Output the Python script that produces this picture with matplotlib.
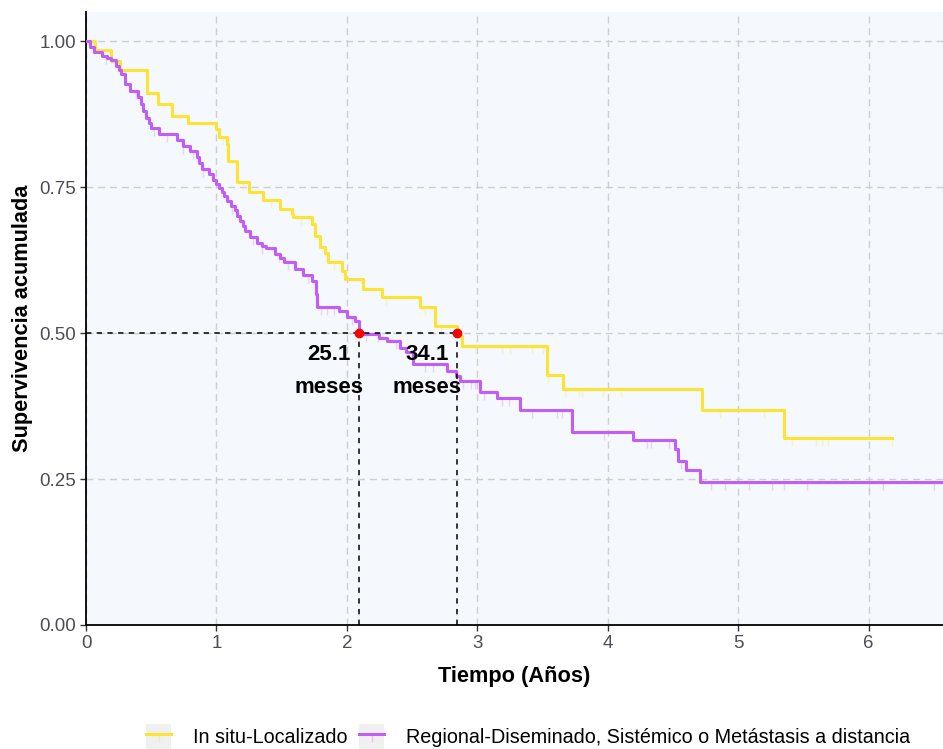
import numpy as np
import matplotlib
matplotlib.use("Agg")
import matplotlib.pyplot as plt
from matplotlib.lines import Line2D
from matplotlib.patches import Patch
from matplotlib.legend_handler import HandlerTuple

plt.rcParams['font.family'] = ['Liberation Sans', 'DejaVu Sans']

# Kaplan-Meier curves (time in years, survival after each drop)
loc_time = [0, 0.07, 0.19, 0.26, 0.47, 0.55, 0.66, 0.78, 1.00, 1.02, 1.08, 1.09, 1.155,
            1.25, 1.36, 1.49, 1.58, 1.59, 1.73, 1.756, 1.794, 1.833, 1.858, 1.961, 1.986,
            2.127, 2.268, 2.561, 2.676, 34.1 / 12, 2.88, 3.533, 3.66, 4.72, 5.35, 6.18]
loc_surv = [1.0, 0.985, 0.966, 0.951, 0.912, 0.893, 0.872, 0.86, 0.849, 0.836, 0.824, 0.795, 0.758,
            0.741, 0.728, 0.712, 0.704, 0.699, 0.687, 0.667, 0.647, 0.638, 0.621, 0.607, 0.592,
            0.576, 0.561, 0.544, 0.512, 0.495, 0.477, 0.428, 0.404, 0.368, 0.321, 0.321]

reg_time = [0, 0.03, 0.06, 0.12, 0.16, 0.19, 0.23, 0.25, 0.27, 0.30, 0.34, 0.40, 0.42, 0.44,
            0.46, 0.48, 0.50, 0.56, 0.70, 0.74, 0.80, 0.85, 0.87, 0.89, 0.94, 0.97, 1.00, 1.02,
            1.04, 1.06, 1.08, 1.11, 1.14, 1.16, 1.18, 1.20, 1.22, 1.26, 1.31, 1.35, 1.38, 1.45,
            1.49, 1.52, 1.60, 1.66, 1.73, 1.76, 1.77, 1.94, 2.00, 2.06, 25.1 / 12, 2.25, 2.31,
            2.41, 2.45, 2.51, 2.77, 2.84, 2.87, 3.02, 3.15, 3.33, 3.725, 4.19, 4.517, 4.54, 4.60,
            4.708, 6.6]
reg_surv = [1.0, 0.99, 0.981, 0.975, 0.971, 0.967, 0.958, 0.951, 0.944, 0.927, 0.915, 0.904, 0.892,
            0.880, 0.869, 0.860, 0.852, 0.841, 0.830, 0.821, 0.812, 0.801, 0.791, 0.781, 0.772,
            0.763, 0.755, 0.748, 0.742, 0.735, 0.727, 0.718, 0.710, 0.701, 0.692, 0.684, 0.675,
            0.664, 0.655, 0.650, 0.645, 0.635, 0.628, 0.621, 0.610, 0.600, 0.589, 0.567, 0.544,
            0.538, 0.527, 0.521, 0.499, 0.492, 0.487, 0.475, 0.467, 0.447, 0.435, 0.427, 0.418,
            0.399, 0.388, 0.368, 0.33, 0.3165, 0.301, 0.281, 0.266, 0.245, 0.245]

# censored observations
loc_cens = [0.3, 1.05, 1.2, 1.42, 1.65, 1.9, 2.3, 2.6, 2.72, 2.98, 3.19, 3.25, 3.42, 3.5,
            3.54, 3.67, 3.78, 3.8, 3.96, 4.1, 4.86, 5.2, 5.41, 5.6, 5.64, 5.69, 6.18]
reg_cens = [0.15, 0.38, 0.52, 0.62, 0.74, 0.82, 0.9, 1.12, 1.28, 1.35, 1.48, 1.55, 1.7, 1.8,
            1.85, 1.9, 2.04, 2.15, 2.24, 2.38, 2.6, 2.66, 2.89, 2.95, 2.98, 3.05, 3.19, 3.24,
            3.42, 3.61, 3.65, 3.97, 4.3, 4.33, 4.47, 4.56, 4.79, 4.9, 5.08, 5.26, 5.35, 5.53,
            6.0, 6.11, 6.5]

medians_months = [25.1, 34.1]

labels = ["In situ-Localizado", "Regional-Diseminado, Sistémico o Metástasis a distancia"]
colors = ["#FDE333", "#C25DF5"]

fig = plt.figure(figsize=(9.43, 7.49), dpi=100)
ax = fig.add_axes([0.0912, 0.1656, 0.9088, 0.8184])
ax.set_facecolor("#F5F8FC")

for tt, ss, cens, col in [(loc_time, loc_surv, loc_cens, colors[0]),
                          (reg_time, reg_surv, reg_cens, colors[1])]:
    tt = np.array(tt)
    ss = np.array(ss)
    ax.step(tt, ss, where='post', color=col, lw=2.2, zorder=3)
    idx = np.searchsorted(tt, cens, side='right') - 1
    ax.plot(cens, ss[idx], ls='none', marker=3, ms=6, mew=1.0,
            color=col, alpha=0.25, zorder=2)

# median survival guides
med_years = [m / 12 for m in medians_months]
ax.plot([0, max(med_years)], [0.5, 0.5], color='black', ls=(0, (3.5, 3.5)), lw=1.1, zorder=4)
for m, my in zip(medians_months, med_years):
    ax.plot([my, my], [0, 0.5], color='black', ls=(0, (3.5, 3.5)), lw=1.1, zorder=4)
    ax.plot(my, 0.5, 'o', color='red', ms=6, zorder=5)
    ax.text(my - 0.23, 0.464, f"{m:.1f}", ha='center', va='center',
            fontsize=16, fontweight='bold', zorder=6)
    ax.text(my - 0.23, 0.406, "meses", ha='center', va='center',
            fontsize=16, fontweight='bold', zorder=6)

ax.set_xlim(0, 6.57)
ax.set_ylim(0, 1.05)
ax.set_xticks([0, 1, 2, 3, 4, 5, 6])
ax.set_yticks([0, 0.25, 0.5, 0.75, 1.0])
ax.set_yticklabels(["0.00", "0.25", "0.50", "0.75", "1.00"])
ax.grid(True, color='#CFCFCF', ls=(0, (5, 3.5)), lw=1.0)
ax.set_axisbelow(True)

for side in ['top', 'right']:
    ax.spines[side].set_visible(False)
for side in ['left', 'bottom']:
    ax.spines[side].set_linewidth(1.3)
    ax.spines[side].set_color('black')

ax.tick_params(axis='both', length=4, width=1, color='#333333',
               labelsize=13.5, labelcolor='#4D4D5A', pad=3)

ax.set_xlabel("Tiempo (Años)", fontsize=15.7, fontweight='bold', labelpad=10)
ax.set_ylabel("Supervivencia acumulada", fontsize=15.7, fontweight='bold', labelpad=5)

handles = []
for col in colors:
    handles.append((Patch(facecolor='#F0F0F0', edgecolor='none'),
                    Line2D([], [], color=col, lw=2.2),
                    Line2D([], [], color=col, ls='none', marker=3, ms=6, alpha=0.3)))
fig.legend(handles, labels, loc='center', bbox_to_anchor=(0.56, 0.016), ncol=2,
           frameon=False, fontsize=14.25, handlelength=1.25, handleheight=1.6,
           handletextpad=1.1, columnspacing=0.6,
           handler_map={tuple: HandlerTuple(ndivide=1, pad=0)})

fig.savefig("out.png", dpi=100)
